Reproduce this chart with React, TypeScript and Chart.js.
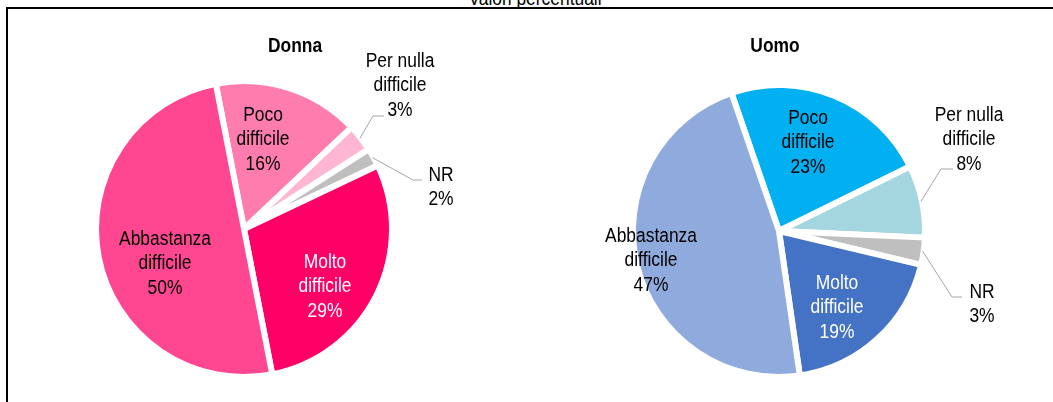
import React, { useEffect, useRef } from "react";
import { Chart, registerables } from "chart.js";

Chart.register(...registerables);

// ---------- data ----------
const categories = [
  "Poco difficile",
  "Per nulla difficile",
  "NR",
  "Molto difficile",
  "Abbastanza difficile",
];
const categoryLines = [
  ["Poco", "difficile"],
  ["Per nulla", "difficile"],
  ["NR"],
  ["Molto", "difficile"],
  ["Abbastanza", "difficile"],
];
const donnaValues = [16, 3, 2, 29, 50];
const uomoValues = [23, 8, 3, 19, 47];
const chartTitle = "Valori percentuali";
const donnaTitle = "Donna";
const uomoTitle = "Uomo";

// ---------- styles ----------
const donnaColors = ["#FF7DAE", "#FFB6D3", "#BFBFBF", "#FF0066", "#FF4791"];
const uomoColors = ["#00B0F0", "#A4D6E0", "#BFBFBF", "#4472C4", "#8FAADC"];
const labelTextColors = ["#000", "#000", "#000", "#fff", "#000"];

// label block centre relative to pie centre (px); leader: [endDx, endDy, elbowLen] relative to label
type LabelLayout = { dx: number; dy: number; leader?: [number, number, number] };
const donnaLayout: LabelLayout[] = [
  { dx: 19, dy: -91 },
  { dx: 156, dy: -145, leader: [-16, 32, 11] },
  { dx: 197, dy: -43, leader: [-19, -6, 9] },
  { dx: 81, dy: 56 },
  { dx: -79, dy: 33 },
];
const uomoLayout: LabelLayout[] = [
  { dx: 29, dy: -90 },
  { dx: 190, dy: -93, leader: [-16, 31, 12] },
  { dx: 203, dy: 72, leader: [-20, -6, 10] },
  { dx: 58, dy: 75 },
  { dx: -128, dy: 28 },
];

const FONT = '"Liberation Sans", Arial, sans-serif';
const SCALE_X = 0.87;
const LINE_H = 24.5;

function drawText(ctx: CanvasRenderingContext2D, text: string, x: number, baseline: number, font: string, color: string) {
  ctx.save();
  ctx.font = font;
  ctx.fillStyle = color;
  ctx.textAlign = "center";
  ctx.textBaseline = "alphabetic";
  ctx.translate(x, baseline);
  ctx.scale(SCALE_X, 1);
  ctx.fillText(text, 0, 0);
  ctx.restore();
}

function makePlugin(title: string, titleX: number, titleY: number, values: number[], layout: LabelLayout[]) {
  return {
    id: "pieLabels",
    afterDatasetsDraw(chart: any) {
      const ctx: CanvasRenderingContext2D = chart.ctx;
      const meta = chart.getDatasetMeta(0);
      drawText(ctx, title, titleX, titleY + 7, `bold 20px ${FONT}`, "#000");
      meta.data.forEach((arc: any, i: number) => {
        const { x, y, startAngle, endAngle, outerRadius } = arc.getProps(
          ["x", "y", "startAngle", "endAngle", "outerRadius"],
          true
        );
        const lay = layout[i];
        const lx = x + lay.dx;
        const ly = y + lay.dy;
        const lines = [...categoryLines[i], `${values[i]}%`];
        const n = lines.length;
        lines.forEach((t, k) => {
          const cy = ly + (k - (n - 1) / 2) * LINE_H;
          drawText(ctx, t, lx, cy + 7, `20px ${FONT}`, labelTextColors[i]);
        });
        if (lay.leader) {
          const mid = (startAngle + endAngle) / 2;
          const sx = x + Math.cos(mid) * (outerRadius - 1);
          const sy = y + Math.sin(mid) * (outerRadius - 1);
          const ex = lx + lay.leader[0];
          const ey = ly + lay.leader[1];
          const bx = ex - lay.leader[2];
          ctx.save();
          ctx.strokeStyle = "#A6A6A6";
          ctx.lineWidth = 1;
          ctx.beginPath();
          ctx.moveTo(sx, sy);
          ctx.lineTo(bx, ey);
          ctx.lineTo(ex, ey);
          ctx.stroke();
          ctx.restore();
        }
      });
    },
  };
}

function PieCanvas(props: {
  left: number;
  width: number;
  height: number;
  values: number[];
  colors: string[];
  rotation: number;
  radius: number;
  padding: { left: number; right: number; top: number; bottom: number };
  title: string;
  titleX: number;
  titleY: number;
  layout: LabelLayout[];
}) {
  const ref = useRef<HTMLCanvasElement>(null);
  useEffect(() => {
    if (!ref.current) return;
    const chart = new Chart(ref.current, {
      type: "pie",
      data: {
        labels: categories,
        datasets: [
          {
            data: props.values,
            backgroundColor: props.colors,
            borderColor: "#ffffff",
            borderWidth: 6,
          },
        ],
      },
      options: {
        responsive: false,
        maintainAspectRatio: false,
        animation: false,
        events: [],
        rotation: props.rotation,
        radius: props.radius,
        layout: { padding: props.padding },
        plugins: {
          legend: { display: false },
          tooltip: { enabled: false },
          title: { display: false },
        },
      } as any,
      plugins: [makePlugin(props.title, props.titleX, props.titleY, props.values, props.layout)],
    });
    return () => chart.destroy();
  }, []);
  return (
    <canvas
      ref={ref}
      width={props.width}
      height={props.height}
      style={{ position: "absolute", left: props.left, top: 0, width: props.width, height: props.height }}
    />
  );
}

export default function App() {
  return (
    <div
      style={{
        position: "fixed",
        left: 0,
        top: 0,
        width: 1053,
        height: 402,
        background: "#fff",
        overflow: "hidden",
      }}
    >
      <div
        style={{
          position: "absolute",
          left: 6,
          top: 7,
          width: 1060,
          height: 410,
          borderLeft: "2px solid #000",
          borderTop: "2px solid #000",
          boxSizing: "border-box",
        }}
      />
      <div
        style={{
          position: "absolute",
          left: 435,
          width: 200,
          top: -12,
          textAlign: "center",
          font: `20px ${FONT}`,
          lineHeight: "20px",
          color: "#000",
          transform: `scaleX(${SCALE_X})`,
          whiteSpace: "nowrap",
        }}
      >
        {chartTitle}
      </div>
      <PieCanvas
        left={0}
        width={526}
        height={402}
        values={donnaValues}
        colors={donnaColors}
        rotation={-11}
        radius={148}
        padding={{ left: 0, right: 38, top: 56, bottom: 0 }}
        title={donnaTitle}
        titleX={295}
        titleY={45}
        layout={donnaLayout}
      />
      <PieCanvas
        left={526}
        width={527}
        height={402}
        values={uomoValues}
        colors={uomoColors}
        rotation={-19}
        radius={146}
        padding={{ left: 0, right: 21, top: 60, bottom: 0 }}
        title={uomoTitle}
        titleX={249}
        titleY={45}
        layout={uomoLayout}
      />
    </div>
  );
}
